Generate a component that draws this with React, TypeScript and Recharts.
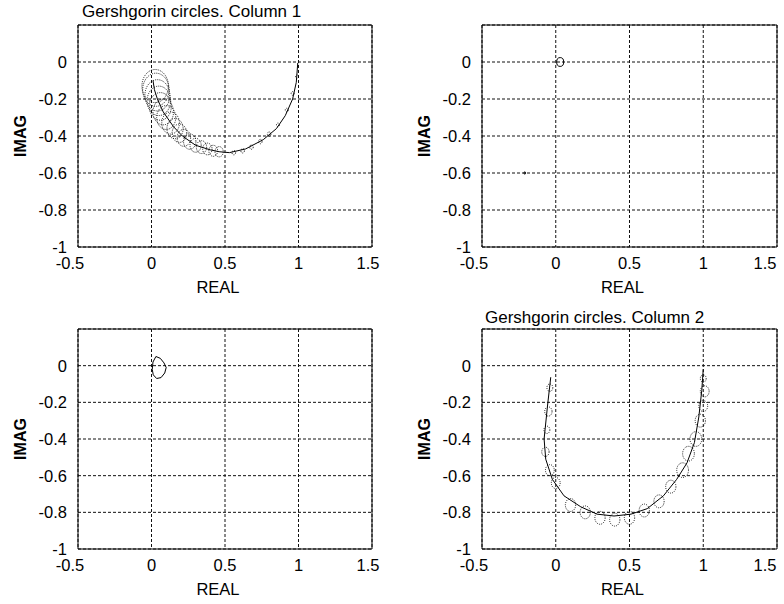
import React from "react"
import {
  ScatterChart,
  Scatter,
  XAxis,
  YAxis,
  CartesianGrid,
  ReferenceArea,
} from "recharts"

// axes shared by all four panels
const X_TICKS = [-0.5, 0, 0.5, 1, 1.5]
const Y_TICKS = [-1, -0.8, -0.6, -0.4, -0.2, 0]

// column 1, diagonal element path (solid)
const col1Path = [
  { x: 0.995, y: -0.005 }, { x: 0.985, y: -0.11 }, { x: 0.96, y: -0.2 },
  { x: 0.91, y: -0.29 }, { x: 0.85, y: -0.36 }, { x: 0.76, y: -0.42 },
  { x: 0.64, y: -0.47 }, { x: 0.53, y: -0.49 }, { x: 0.46, y: -0.485 },
  { x: 0.4, y: -0.475 }, { x: 0.3, y: -0.45 }, { x: 0.21, y: -0.4 },
  { x: 0.15, y: -0.35 }, { x: 0.08, y: -0.27 }, { x: 0.04, y: -0.2 },
  { x: 0.02, y: -0.15 }, { x: 0.01, y: -0.1 },
]

// column 1 circles (centre, radius)
const col1Circles = [
  { x: 0.46, y: -0.485, r: 0.028 }, { x: 0.42, y: -0.48, r: 0.03 },
  { x: 0.38, y: -0.47, r: 0.032 }, { x: 0.34, y: -0.46, r: 0.035 },
  { x: 0.3, y: -0.45, r: 0.038 }, { x: 0.26, y: -0.43, r: 0.042 },
  { x: 0.22, y: -0.41, r: 0.046 }, { x: 0.19, y: -0.385, r: 0.05 },
  { x: 0.16, y: -0.36, r: 0.055 }, { x: 0.13, y: -0.33, r: 0.06 },
  { x: 0.1, y: -0.3, r: 0.065 }, { x: 0.08, y: -0.27, r: 0.07 },
  { x: 0.06, y: -0.24, r: 0.075 }, { x: 0.05, y: -0.21, r: 0.08 },
  { x: 0.04, y: -0.18, r: 0.085 }, { x: 0.03, y: -0.15, r: 0.09 },
  { x: 0.025, y: -0.13, r: 0.09 },
  { x: 0.56, y: -0.49, r: 0.012 }, { x: 0.62, y: -0.48, r: 0.012 },
  { x: 0.68, y: -0.46, r: 0.012 }, { x: 0.74, y: -0.43, r: 0.012 },
  { x: 0.8, y: -0.39, r: 0.012 }, { x: 0.86, y: -0.34, r: 0.01 },
  { x: 0.92, y: -0.26, r: 0.01 }, { x: 0.96, y: -0.17, r: 0.01 },
  { x: 0.99, y: -0.08, r: 0.01 },
]

// top right: small circle and stray point
const topRightCircles = [{ x: 0.03, y: 0, r: 0.024 }]
const topRightDots = [{ x: -0.21, y: -0.6, r: 0.006 }]

// bottom left: small closed loop
const bottomLeftLoop = [
  { x: 0.03, y: 0.05 }, { x: 0.06, y: 0.04 }, { x: 0.085, y: 0.015 },
  { x: 0.1, y: -0.01 }, { x: 0.09, y: -0.04 }, { x: 0.065, y: -0.065 },
  { x: 0.035, y: -0.07 }, { x: 0.012, y: -0.05 }, { x: 0.005, y: -0.02 },
  { x: 0.01, y: 0.02 }, { x: 0.03, y: 0.05 },
]

// column 2, diagonal element path (solid)
const col2Path = [
  { x: -0.034, y: -0.063 }, { x: -0.056, y: -0.22 }, { x: -0.079, y: -0.4 },
  { x: -0.068, y: -0.51 }, { x: -0.023, y: -0.62 }, { x: 0.056, y: -0.71 },
  { x: 0.17, y: -0.77 }, { x: 0.28, y: -0.81 }, { x: 0.395, y: -0.82 },
  { x: 0.51, y: -0.81 }, { x: 0.62, y: -0.78 }, { x: 0.73, y: -0.71 },
  { x: 0.82, y: -0.62 }, { x: 0.89, y: -0.53 }, { x: 0.94, y: -0.42 },
  { x: 0.97, y: -0.28 }, { x: 0.99, y: -0.135 }, { x: 1.0, y: -0.02 },
]

const col2Circles = [
  { x: -0.04, y: -0.12, r: 0.02 }, { x: -0.05, y: -0.25, r: 0.025 },
  { x: -0.06, y: -0.35, r: 0.02 }, { x: -0.07, y: -0.47, r: 0.025 },
  { x: -0.04, y: -0.57, r: 0.03 }, { x: 0.0, y: -0.64, r: 0.03 },
  { x: 0.1, y: -0.76, r: 0.035 }, { x: 0.2, y: -0.8, r: 0.035 },
  { x: 0.3, y: -0.83, r: 0.035 }, { x: 0.4, y: -0.84, r: 0.035 },
  { x: 0.5, y: -0.83, r: 0.035 }, { x: 0.6, y: -0.79, r: 0.035 },
  { x: 0.7, y: -0.74, r: 0.035 }, { x: 0.78, y: -0.66, r: 0.035 },
  { x: 0.86, y: -0.57, r: 0.04 }, { x: 0.9, y: -0.48, r: 0.04 },
  { x: 0.95, y: -0.4, r: 0.04 }, { x: 0.98, y: -0.3, r: 0.035 },
  { x: 1.0, y: -0.22, r: 0.03 }, { x: 1.01, y: -0.14, r: 0.03 },
  { x: 1.0, y: -0.07, r: 0.02 },
]

const FONT = "'Liberation Sans', Arial, Helvetica, sans-serif"
const TICK_SIZE = 16.5
// pixels per data unit inside a plot box (294 x 221 px for 2 x 1.2 units)
const PX = 147
const PY = 184

const noDot = () => <g />

const circleShape = (dashed: boolean) => (props: any) => {
  const { cx, cy, payload } = props
  return (
    <ellipse
      cx={cx}
      cy={cy}
      rx={payload.r * PX}
      ry={payload.r * PY}
      fill="none"
      stroke="#000"
      strokeWidth={dashed ? 0.9 : 1}
      strokeDasharray={dashed ? "1 1.2" : undefined}
    />
  )
}

// x tick labels; the end labels sit a little inwards like the original
const makeXTick = (lastShift: number) => (props: any) => {
  const { x, y, payload, index } = props
  let dx = 0
  if (index === 0) dx = -8
  if (index === X_TICKS.length - 1) dx = lastShift
  return (
    <text
      x={x + dx}
      y={y}
      dy="0.71em"
      textAnchor="middle"
      fontSize={TICK_SIZE}
      fontFamily={FONT}
      fill="#000"
    >
      {payload.value}
    </text>
  )
}

const ImagLabel = (props: any) => {
  const { x, y, width, height } = props.viewBox
  const cx = x + width - 58
  const cy = y + height / 2
  return (
    <text
      x={cx}
      y={cy}
      transform={`rotate(-90, ${cx}, ${cy})`}
      textAnchor="middle"
      dominantBaseline="central"
      fontWeight="bold"
      fontSize={16}
      fontFamily={FONT}
      fill="#000"
    >
      IMAG
    </text>
  )
}

const RealLabel = (props: any) => {
  const { x, y, width } = props.viewBox
  return (
    <text
      x={x + width / 2 - 7}
      y={y + 40}
      textAnchor="middle"
      dominantBaseline="central"
      fontSize={16.5}
      fontFamily={FONT}
      fill="#000"
    >
      REAL
    </text>
  )
}

interface PanelProps {
  left: number
  top: number
  height: number
  margin: { top: number; right: number; bottom: number; left: number }
  lastShift: number
  title?: string
  titleLeft?: number
  titleTop?: number
  paths: { x: number; y: number }[][]
  circles?: { x: number; y: number; r: number }[]
  dottedCircles?: boolean
  dots?: { x: number; y: number; r: number }[]
}

function Panel({
  left,
  top,
  height,
  margin,
  lastShift,
  title,
  titleLeft,
  titleTop,
  paths,
  circles,
  dottedCircles = true,
  dots,
}: PanelProps) {
  return (
    <div style={{ position: "absolute", left, top, width: 392, height }}>
      {title && (
        <div
          style={{
            position: "absolute",
            left: titleLeft,
            top: titleTop,
            fontFamily: FONT,
            fontSize: 17,
            lineHeight: "20px",
            color: "#000",
            whiteSpace: "nowrap",
            zIndex: 2,
          }}
        >
          {title}
        </div>
      )}

      <ScatterChart width={392} height={height} margin={margin}>

        <CartesianGrid stroke="#111" strokeDasharray="3 2" />

        <XAxis
          type="number"
          dataKey="x"
          domain={[-0.5, 1.5]}
          ticks={X_TICKS}
          allowDataOverflow
          axisLine={false}
          tickLine={false}
          tickSize={6}
          tickMargin={4}
          height={40}
          tick={makeXTick(lastShift)}
          label={<RealLabel />}
        />

        <YAxis
          type="number"
          dataKey="y"
          domain={[-1, 0.2]}
          ticks={Y_TICKS}
          allowDataOverflow
          axisLine={false}
          tickLine={false}
          tickSize={6}
          tickMargin={5}
          width={60}
          tick={{ fill: "#000", fontSize: TICK_SIZE, fontFamily: FONT }}
          label={<ImagLabel />}
        />

        <ReferenceArea
          x1={-0.5}
          x2={1.5}
          y1={-1}
          y2={0.2}
          fill="none"
          stroke="#000"
          strokeWidth={1}
          fillOpacity={0}
        />

        {/* dotted Gershgorin circles */}
        {circles && (
          <Scatter
            data={circles}
            shape={circleShape(dottedCircles)}
            isAnimationActive={false}
          />
        )}

        {dots && (
          <Scatter
            data={dots}
            shape={circleShape(false)}
            isAnimationActive={false}
          />
        )}

        {/* solid paths */}
        {paths.map((p, i) => (
          <Scatter
            key={i}
            data={p}
            line={{ stroke: "#000", strokeWidth: 1 }}
            shape={noDot}
            isAnimationActive={false}
          />
        ))}

      </ScatterChart>
    </div>
  )
}

export default function App() {
  return (
    <div
      style={{
        position: "absolute",
        left: 0,
        top: 0,
        width: 784,
        height: 604,
        background: "#fff",
      }}
    >
      <Panel
        left={0}
        top={0}
        height={300}
        margin={{ top: 25, right: 20, bottom: 13, left: 18 }}
        lastShift={-4}
        title="Gershgorin circles. Column 1"
        titleLeft={82}
        titleTop={2}
        paths={[col1Path]}
        circles={col1Circles}
      />

      <Panel
        left={392}
        top={0}
        height={300}
        margin={{ top: 25, right: 7, bottom: 13, left: 30 }}
        lastShift={-9}
        paths={[]}
        circles={topRightCircles}
        dottedCircles={false}
        dots={topRightDots}
      />

      <Panel
        left={0}
        top={300}
        height={304}
        margin={{ top: 29, right: 20, bottom: 15, left: 18 }}
        lastShift={-4}
        paths={[bottomLeftLoop]}
      />

      <Panel
        left={392}
        top={300}
        height={304}
        margin={{ top: 29, right: 7, bottom: 15, left: 30 }}
        lastShift={-9}
        title="Gershgorin circles. Column 2"
        titleLeft={93}
        titleTop={8}
        paths={[col2Path]}
        circles={col2Circles}
      />
    </div>
  )
}
